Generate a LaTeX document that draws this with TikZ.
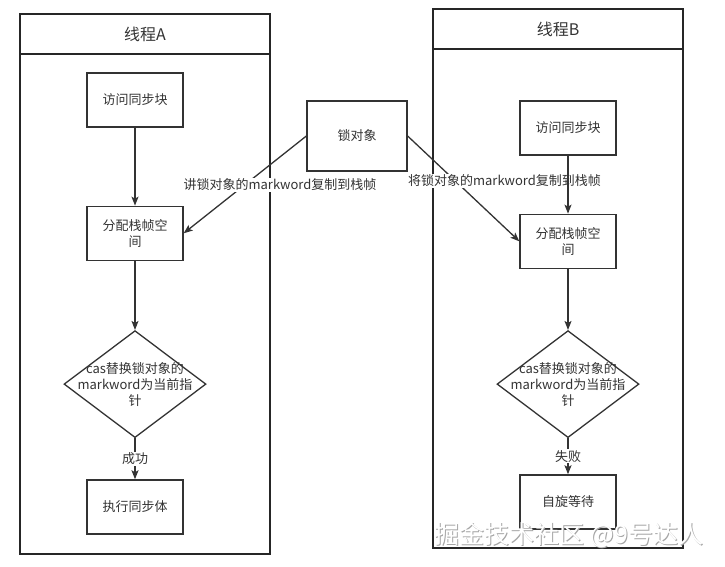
\documentclass[tikz,border=0pt]{standalone}
\usepackage{fontspec}
\setmainfont{Noto Sans CJK SC}
\usetikzlibrary{shapes.geometric, arrows.meta, positioning}
\definecolor{linegray}{HTML}{333333}
\definecolor{textgray}{HTML}{333333}

\tikzset{
	procbox/.style={draw=linegray, line width=1.3pt, minimum width=96pt, minimum height=54pt, align=center, fill=white},
	lockbox/.style={procbox, minimum width=100pt, minimum height=70pt},
	decision/.style={diamond, draw=linegray, line width=1.3pt, minimum width=142pt, minimum height=107pt, inner sep=0pt, fill=white},
	pool/.style={draw=black!85, line width=2pt, minimum width=250pt},
	pooltitle/.style={pool, minimum height=40pt, font=\fontsize{16pt}{19pt}\selectfont},
	arrowline/.style={-{Stealth[length=9pt,width=7pt,inset=2pt]}, draw=linegray, line width=1.3pt},
	edgelabel/.style={fill=white, inner sep=1pt},
}

\begin{document}
\begin{tikzpicture}[x=1pt, y=-1pt, font=\fontsize{13pt}{16pt}\selectfont, text=textgray]
		\useasboundingbox (0,0) rectangle (725,566);
		
		% thread A
		\node[pool, minimum height=540pt] (poolA) at (145,284) {};
		\node[pooltitle, below=0pt of poolA.north] (titleA) {线程A};
		\node[procbox] (accessA) at (135,100) {访问同步块};
		\node[procbox, below=78pt of accessA] (frameA) {分配栈帧空\\间};
		\node[decision, below=69pt of frameA, label={[align=center]center:cas替换锁对象的\\markword为当前指\\针}] (casA) {};
		\node[procbox, below=41pt of casA] (runA) {执行同步体};
		
		% thread B
		\node[pool, minimum height=539pt] (poolB) at (558,278.5) {};
		\node[pooltitle, below=0pt of poolB.north] (titleB) {线程B};
		\node[procbox] (accessB) at (568,128) {访问同步块};
		\node[procbox, below=58pt of accessB] (frameB) {分配栈帧空\\间};
		\node[decision, below=61pt of frameB, label={[align=center]center:cas替换锁对象的\\markword为当前指\\针}] (casB) {};
		\node[procbox, below=36pt of casB] (waitB) {自旋等待};
		
		% lock object
		\node[lockbox] (lock) at (357,136) {锁对象};
		
		\draw[arrowline] (accessA) -- (frameA);
		\draw[arrowline] (frameA) -- (casA);
		\draw[arrowline] (casA) -- node[edgelabel] {成功} (runA);
		\draw[arrowline] (lock.west) -- node[edgelabel, xshift=35pt] {讲锁对象的markword复制到栈帧} (frameA.east);
		\draw[arrowline] (lock.east) -- node[edgelabel, xshift=41pt, yshift=8pt] {将锁对象的markword复制到栈帧} (frameB.west);
		\draw[arrowline] (accessB) -- (frameB);
		\draw[arrowline] (frameB) -- (casB);
		\draw[arrowline] (casB) -- node[edgelabel] {失败} (waitB);
		
		% watermark
		\node[text=gray!70, font=\fontsize{25pt}{25pt}\selectfont] (markshadow) at (570,536) {掘金技术社区 @9号达人};
		\node[text=white, font=\fontsize{25pt}{25pt}\selectfont] (mark) at (569,535) {掘金技术社区 @9号达人};
		
\end{tikzpicture}
\end{document}
